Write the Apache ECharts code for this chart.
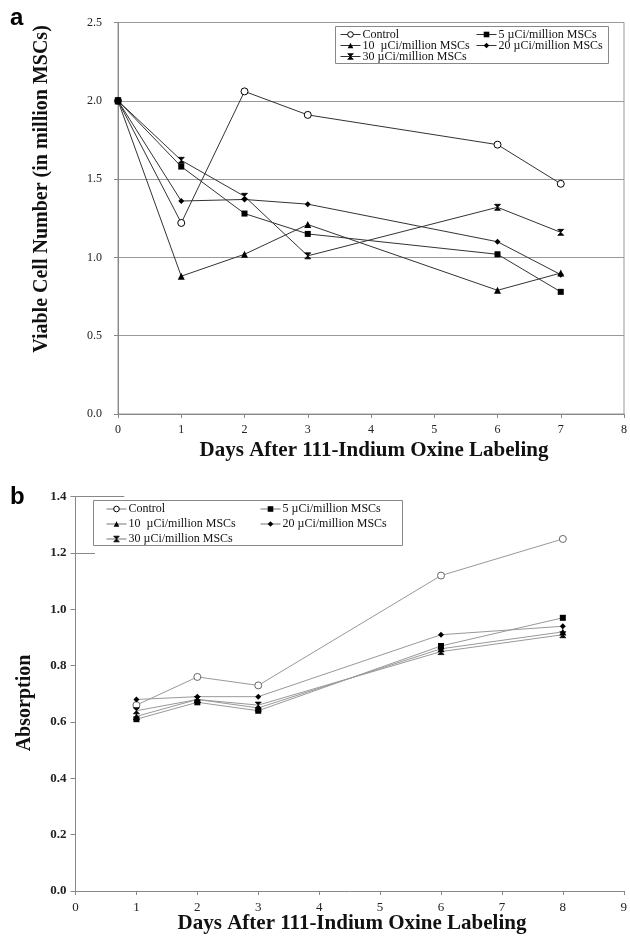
<!DOCTYPE html>
<html>
<head>
<meta charset="utf-8">
<script src="https://cdn.jsdelivr.net/npm/echarts@6/dist/echarts.min.js"></script>
<style>html,body{margin:0;padding:0;background:#fff}#c{width:630px;height:937px}</style>
</head>
<body>
<div id="c"></div>
<script>
// ---- Data (panel a) ----
var daysA = [0, 1, 2, 3, 6, 7];
var controlA = [2.00, 1.22, 2.06, 1.91, 1.72, 1.47];
var mu5A     = [2.00, 1.58, 1.28, 1.15, 1.02, 0.78];
var mu10A    = [2.00, 0.88, 1.02, 1.21, 0.79, 0.90];
var mu20A    = [2.00, 1.36, 1.37, 1.34, 1.10, 0.89];
var mu30A    = [2.00, 1.62, 1.39, 1.01, 1.32, 1.16];
// ---- Data (panel b) ----
var daysB = [1, 2, 3, 6, 8];
var controlB = [0.66, 0.76, 0.73, 1.12, 1.25];
var mu5B     = [0.61, 0.67, 0.64, 0.87, 0.97];
var mu10B    = [0.62, 0.68, 0.65, 0.86, 0.92];
var mu20B    = [0.68, 0.69, 0.69, 0.91, 0.94];
var mu30B    = [0.64, 0.68, 0.66, 0.85, 0.91];
var seriesNames = ['Control', '5 µCi/million MSCs', '10  µCi/million MSCs', '20 µCi/million MSCs', '30 µCi/million MSCs'];
var yTicksA = [0.0, 0.5, 1.0, 1.5, 2.0, 2.5];
var yTicksB = [0.0, 0.2, 0.4, 0.6, 0.8, 1.0, 1.2, 1.4];

var SERIF = '"Liberation Serif", "DejaVu Serif", serif';
var starPath = 'path://M0,0 L10,0 L0,10 L10,10 Z';
var symbols = ['circle', 'rect', 'triangle', 'diamond', starPath];
var sizes = [7, 6, 7, 6, 6];

function pairs(xs, ys) { return xs.map(function (x, i) { return [x, ys[i]]; }); }

var dataA = [controlA, mu5A, mu10A, mu20A, mu30A];
var dataB = [controlB, mu5B, mu10B, mu20B, mu30B];

var series = [];
seriesNames.forEach(function (n, i) {
  series.push({
    name: n, type: 'line', xAxisIndex: 0, yAxisIndex: 0,
    data: pairs(daysA, dataA[i]),
    symbol: symbols[i], symbolSize: sizes[i],
    lineStyle: { color: '#333', width: 1 },
    itemStyle: { color: i === 0 ? '#fff' : '#000', borderColor: '#000', borderWidth: i === 0 ? 1 : (i === 4 ? 0.8 : 0) },
    animation: false, z: 3
  });
});
seriesNames.forEach(function (n, i) {
  var s = {
    name: n, type: 'line', xAxisIndex: 1, yAxisIndex: 1,
    data: pairs(daysB, dataB[i]),
    symbol: symbols[i], symbolSize: sizes[i],
    lineStyle: { color: '#999', width: 1 },
    itemStyle: { color: i === 0 ? '#fff' : '#000', borderColor: i === 0 ? '#666' : '#000', borderWidth: i === 0 ? 1 : (i === 4 ? 0.8 : 0) },
    animation: false, z: 3
  };
  if (i === 0) {
    s.markLine = {
      silent: true, symbol: 'none', animation: false, label: { show: false },
      lineStyle: { color: '#888', width: 1, type: 'solid' },
      data: [
        [{ coord: [0, 1.4] }, { coord: [0.8, 1.4] }],
        [{ coord: [0, 1.2] }, { coord: [0.32, 1.2] }]
      ]
    };
  }
  series.push(s);
});

function legendItems(idx, isB) {
  return idx.map(function (i) {
    return {
      name: seriesNames[i],
      itemStyle: { color: i === 0 ? '#fff' : '#000', borderColor: '#000', borderWidth: i === 0 ? 1 : (i === 4 ? 0.8 : 0) },
      lineStyle: { color: isB ? '#777' : '#333', width: 1 }
    };
  });
}
function legend(idx, left, top, gap, isB) {
  return {
    orient: 'vertical', left: left, top: top, itemGap: gap,
    itemWidth: 20, itemHeight: 7, padding: 0, selectedMode: false,
    data: legendItems(idx, isB),
    textStyle: { fontFamily: SERIF, fontSize: 12, color: '#111', lineHeight: 11, padding: [0, 0, 0, -3] }
  };
}

var axisCommon = {
  axisLine: { show: true, lineStyle: { color: '#888', width: 1 } },
  axisTick: { show: true, lineStyle: { color: '#888' }, length: 4 },
  axisLabel: { fontFamily: SERIF, fontSize: 12, color: '#222' },
  splitLine: { show: false }
};

var option = {
  backgroundColor: '#fff',
  animation: false,
  grid: [
    { left: 118, top: 22.5, width: 512, height: 391.5, show: true, borderColor: '#999', borderWidth: 1, backgroundColor: 'transparent' },
    { left: 75.5, top: 496.7, width: 551.5, height: 394.3, show: false }
  ],
  xAxis: [
    Object.assign({}, axisCommon, { type: 'value', gridIndex: 0, min: 0, max: 8, interval: 1,
      axisLabel: { fontFamily: SERIF, fontSize: 12, color: '#222', margin: 10 } }),
    Object.assign({}, axisCommon, { type: 'value', gridIndex: 1, min: 0, max: 9, interval: 1,
      axisLabel: { fontFamily: SERIF, fontSize: 13, color: '#222', margin: 10 } })
  ],
  yAxis: [
    Object.assign({}, axisCommon, { type: 'value', gridIndex: 0, min: 0, max: 2.5, interval: 0.5,
      axisLabel: { fontFamily: SERIF, fontSize: 12, color: '#222', margin: 16, formatter: function (v) { return v.toFixed(1); } },
      splitLine: { show: true, lineStyle: { color: '#999', width: 1 } } }),
    Object.assign({}, axisCommon, { type: 'value', gridIndex: 1, min: 0, max: 1.4, interval: 0.2,
      axisTick: { show: true, lineStyle: { color: '#888' }, length: 5 },
      axisLabel: { fontFamily: SERIF, fontSize: 13, fontWeight: 'bold', color: '#222', margin: 9, formatter: function (v) { return v.toFixed(1); } } })
  ],
  legend: [
    legend([0, 2, 4], 340, 28.5, -1, false),
    legend([1, 3], 476, 28.5, -1, false),
    legend([0, 2, 4], 106, 503, 3, true),
    legend([1, 3], 260, 503, 3, true)
  ],
  graphic: [
    { type: 'rect', shape: { x: 335.5, y: 26.5, width: 273, height: 37 }, style: { fill: 'transparent', stroke: '#888', lineWidth: 1 }, z: 10, silent: true },
    { type: 'rect', shape: { x: 93.5, y: 500.5, width: 309, height: 45 }, style: { fill: 'transparent', stroke: '#888', lineWidth: 1 }, z: 10, silent: true },
    { type: 'text', x: 10, y: 6, style: { text: 'a', font: 'bold 24px "Liberation Sans", Arial, sans-serif', fill: '#000' } },
    { type: 'text', x: 10, y: 485, style: { text: 'b', font: 'bold 24px "Liberation Sans", Arial, sans-serif', fill: '#000' } },
    { type: 'text', x: 42, y: 189, rotation: Math.PI / 2, style: { text: 'Viable Cell Number (in million MSCs)', font: 'bold 20px ' + SERIF, fill: '#111', textAlign: 'center', textVerticalAlign: 'middle' } },
    { type: 'text', x: 374, y: 451, style: { text: 'Days After 111-Indium Oxine Labeling', font: 'bold 21px ' + SERIF, fill: '#111', textAlign: 'center', textVerticalAlign: 'middle' } },
    { type: 'text', x: 25, y: 703, rotation: Math.PI / 2, style: { text: 'Absorption', font: 'bold 20px ' + SERIF, fill: '#111', textAlign: 'center', textVerticalAlign: 'middle' } },
    { type: 'text', x: 352, y: 924, style: { text: 'Days After 111-Indium Oxine Labeling', font: 'bold 21px ' + SERIF, fill: '#111', textAlign: 'center', textVerticalAlign: 'middle' } }
  ],
  series: series
};

var chart = echarts.init(document.getElementById('c'), null, { renderer: 'canvas' });
chart.setOption(option);
</script>
</body>
</html>
